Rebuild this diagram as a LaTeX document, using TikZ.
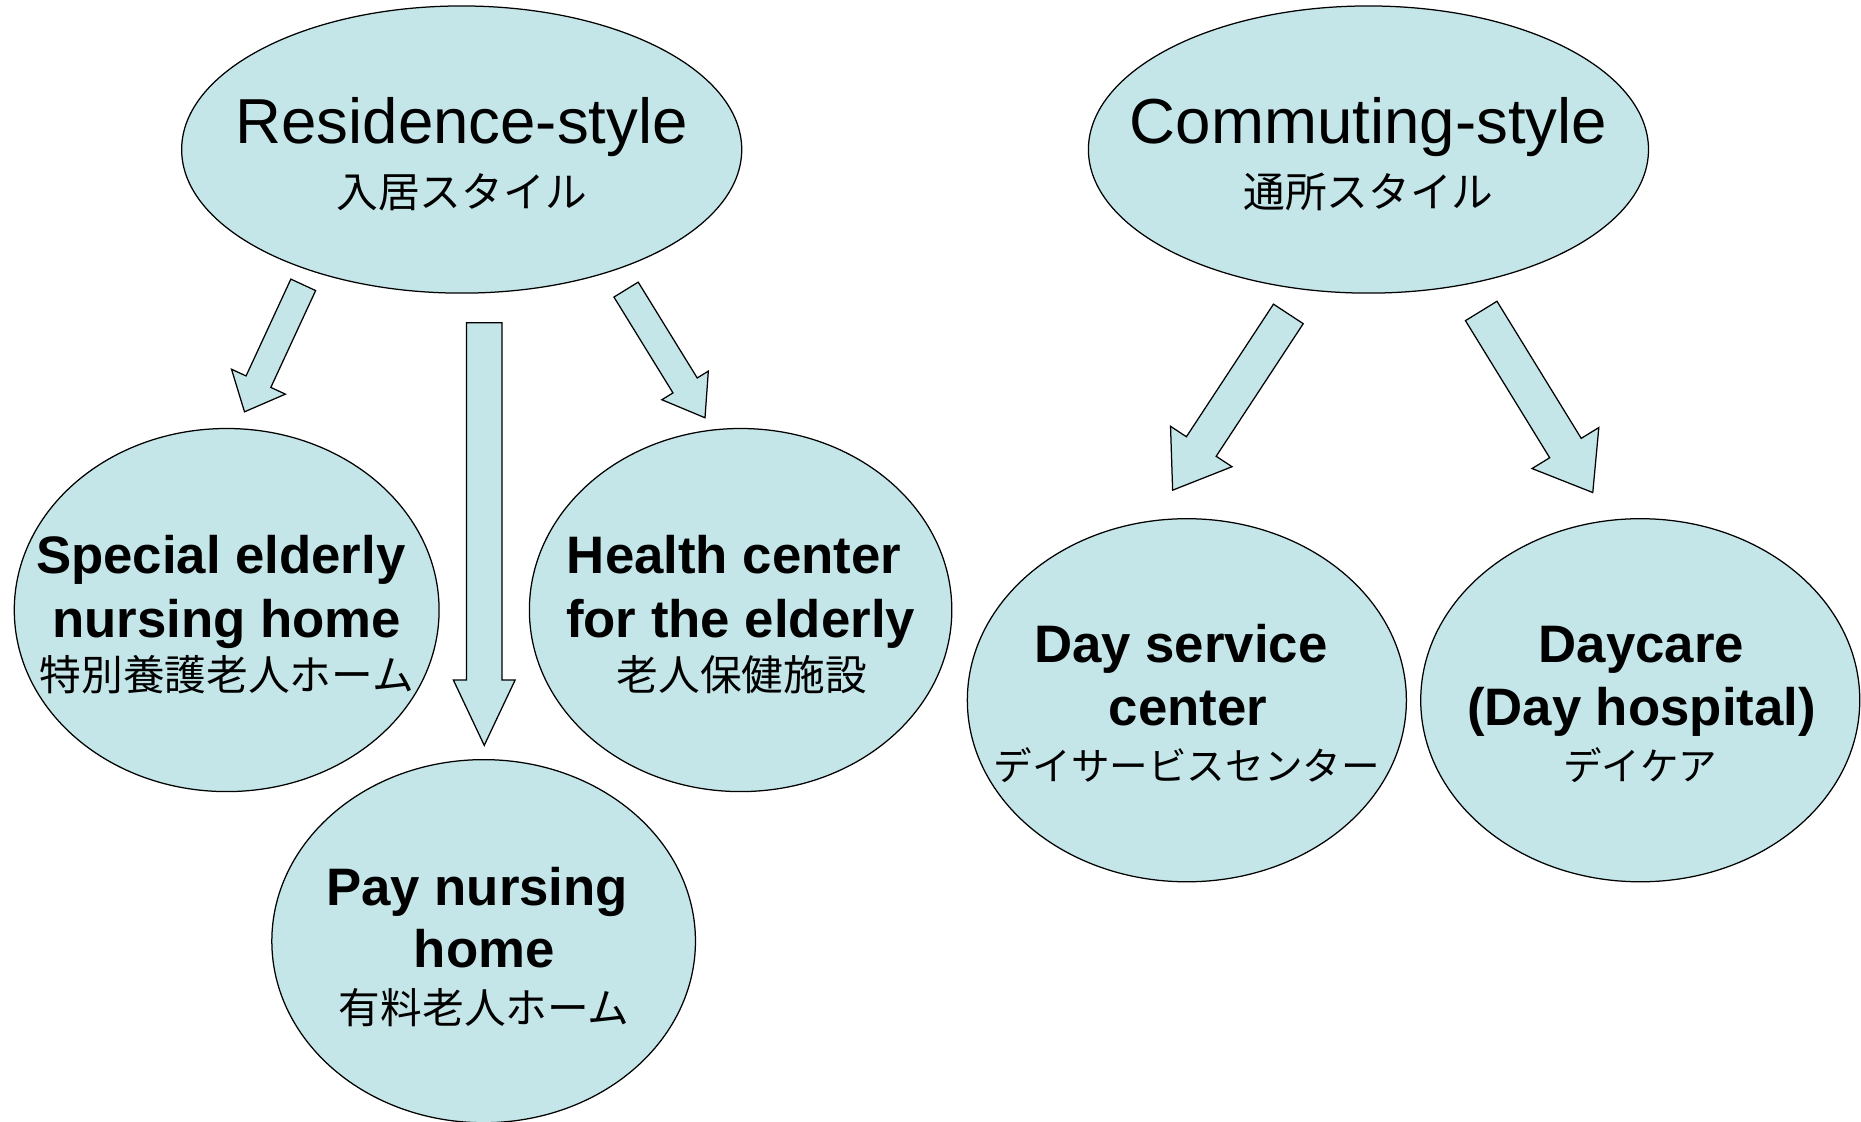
\documentclass[tikz,border=0pt]{standalone}
\usepackage{fontspec}
\setmainfont{Liberation Sans}
\newfontfamily\jpfont{Noto Sans CJK JP}
\usetikzlibrary{shapes.geometric,calc}
\definecolor{bub}{RGB}{196,230,232}
\tikzset{
  bubble/.style={draw=black, fill=bub, line width=0.6pt, ellipse, inner sep=0pt},
  arr/.style={draw=black, fill=bub, line width=0.6pt, line join=miter},
  big/.style={anchor=base, inner sep=0pt, font=\fontsize{30.5}{36}\selectfont},
  bld/.style={anchor=base, inner sep=0pt, font=\fontsize{25.3}{30}\selectfont\bfseries},
  jp/.style={anchor=base, inner sep=0pt, font=\fontsize{20}{24}\selectfont\jpfont},
  jps/.style={anchor=base, inner sep=0pt, font=\fontsize{18.5}{22}\selectfont\jpfont},
}
\newcommand{\blockarrow}[5]{%
  \coordinate (hb) at ($(#2)!#5*0.02cm!(#1)$);
  \draw[arr] ($(#1)!#3*0.02cm!90:(#2)$) -- ($(hb)!#3*0.02cm!90:(#2)$) -- ($(hb)!#4*0.02cm!90:(#2)$) -- (#2)
     -- ($(hb)!#4*0.02cm!-90:(#2)$) -- ($(hb)!#3*0.02cm!-90:(#2)$) -- ($(#1)!#3*0.02cm!-90:(#2)$) -- cycle;}
\begin{document}
\begin{tikzpicture}[x=0.02cm,y=-0.02cm]
\useasboundingbox (0,0) rectangle (1568,945);
% ellipses
\node[bubble, minimum width=9.44cm, minimum height=4.84cm] (res) at (389,126) {};
\node[bubble, minimum width=9.44cm, minimum height=4.84cm] (com) at (1153,126) {};
\node[bubble, minimum width=7.16cm, minimum height=6.12cm] (spc) at (191,514) {};
\node[bubble, minimum width=7.12cm, minimum height=6.12cm] (hlt) at (624,514) {};
\node[bubble, minimum width=7.14cm, minimum height=6.12cm] (pay) at (407.5,793) {};
\node[bubble, minimum width=7.40cm, minimum height=6.12cm] (day) at (1000,590) {};
\node[bubble, minimum width=7.40cm, minimum height=6.12cm] (dcr) at (1382,590) {};
% arrow end points
\coordinate (a1s) at (255.5,240);  \coordinate (a1e) at (206,347);
\coordinate (a2s) at (408,272);    \coordinate (a2e) at (408,628);
\coordinate (a3s) at (527.5,244);  \coordinate (a3e) at (594,352);
\coordinate (a4s) at (1085.5,264.5); \coordinate (a4e) at (988,413);
\coordinate (a5s) at (1248,262);   \coordinate (a5e) at (1342,415);
\blockarrow{a1s}{a1e}{11.5}{25}{28}
\blockarrow{a2s}{a2e}{15}{26}{55}
\blockarrow{a3s}{a3e}{12}{23}{32}
\blockarrow{a4s}{a4e}{15}{31}{44}
\blockarrow{a5s}{a5e}{15.6}{33}{44}
% texts
\node[big] (resT1) at (389,121) {Residence-style};
\node[jp]  (resT2) at (389,175) {入居スタイル};
\node[big] (comT1) at (1153,121) {Commuting-style};
\node[jp]  (comT2) at (1153,175) {通所スタイル};
\node[bld] (spcT1) at (186,483) {Special elderly};
\node[bld] (spcT2) at (191,537) {nursing home};
\node[jp]  (spcT3) at (191,582) {特別養護老人ホーム};
\node[bld] (hltT1) at (618.5,483) {Health center};
\node[bld] (hltT2) at (624,537) {for the elderly};
\node[jp]  (hltT3) at (625,582) {老人保健施設};
\node[bld] (payT1) at (402,763) {Pay nursing};
\node[bld] (payT2) at (408,815) {home};
\node[jp]  (payT3) at (408,862) {有料老人ホーム};
\node[bld] (dayT1) at (995,558) {Day service};
\node[bld] (dayT2) at (1001,611) {center};
\node[jps] (dayT3) at (1000,658) {デイサービスセンター};
\node[bld] (dcrT1) at (1383,558) {Daycare};
\node[bld] (dcrT2) at (1383,611) {(Day hospital)};
\node[jps] (dcrT3) at (1382,658) {デイケア};
\end{tikzpicture}
\end{document}
